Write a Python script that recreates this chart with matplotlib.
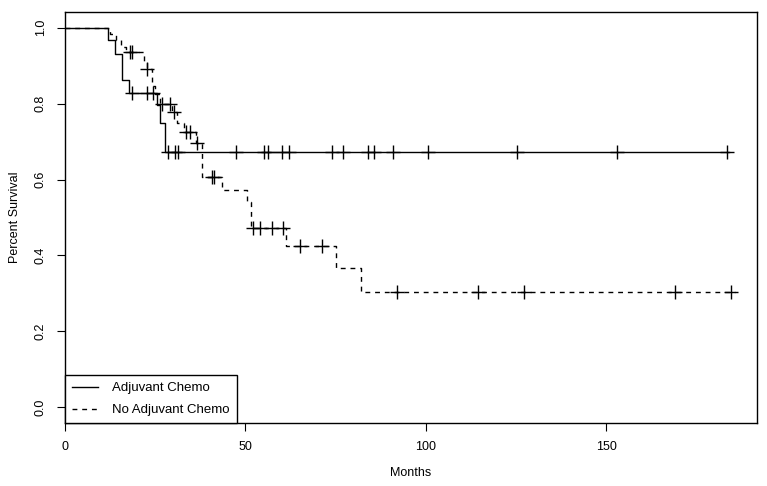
import numpy as np
import matplotlib
matplotlib.use("Agg")
import matplotlib.pyplot as plt

plt.rcParams['font.family'] = ['Liberation Sans', 'DejaVu Sans']

# Kaplan-Meier step values (months, survival)
adj_times = [0, 11.8, 13.9, 15.9, 17.8, 25.6, 26.4, 27.7]
adj_surv = [1.0, 0.966, 0.931, 0.862, 0.828, 0.797, 0.750, 0.672]
adj_end = 184.0
adj_censor = [18.6, 22.8, 24.4, 28.6, 30.5, 31.4, 47.4, 55.2, 56.1, 60.2,
              62.1, 74.1, 76.9, 83.8, 85.7, 90.8, 100.6, 125.2, 152.9, 183.5]

noadj_times = [0, 12.5, 14.0, 15.5, 17.0, 22.0, 22.8, 24.0, 25.0, 26.3,
               29.7, 31.0, 33.0, 36.3, 37.9, 43.4, 50.3, 51.4, 61.2, 75.1, 82.0]
noadj_surv = [1.0, 0.983, 0.966, 0.950, 0.937, 0.913, 0.891, 0.847, 0.826, 0.800,
              0.778, 0.750, 0.724, 0.697, 0.606, 0.573, 0.540, 0.472, 0.426, 0.368, 0.305]
noadj_end = 185.6
noadj_censor = [18.0, 18.6, 22.8, 26.8, 29.0, 30.3, 33.5, 34.6, 36.5, 40.6, 41.3,
                52.0, 54.0, 57.3, 60.3, 65.1, 71.1, 92.1, 114.4, 127.1, 169.0, 184.5]

labels = ["Adjuvant Chemo", "No Adjuvant Chemo"]


def surv_at(times, surv, t):
    idx = np.searchsorted(times, t, side='right') - 1
    return np.array(surv)[idx]


fig = plt.figure(figsize=(7.67, 4.86), dpi=100)
ax = fig.add_axes([65 / 767, 1 - 423 / 486, 692 / 767, 411 / 486])

dash = (0, (3.5, 3.5))
groups = [
    (adj_times, adj_surv, adj_end, adj_censor, '-'),
    (noadj_times, noadj_surv, noadj_end, noadj_censor, dash),
]
for (tt, ss, end, cens, ls), lab in zip(groups, labels):
    x = list(tt) + [end]
    y = list(ss) + [ss[-1]]
    ax.step(x, y, where='post', color='black', lw=1.0, linestyle=ls, label=lab)
    ax.plot(cens, surv_at(tt, ss, cens), linestyle='none', marker='+',
            markersize=10, mew=1.0, color='black')

ax.set_xlim(0, 191.7)
ax.set_ylim(-0.041, 1.041)
ax.set_xticks([0, 50, 100, 150])
ax.set_yticks([0.0, 0.2, 0.4, 0.6, 0.8, 1.0])
ax.set_yticklabels(["0.0", "0.2", "0.4", "0.6", "0.8", "1.0"], rotation=90, va='center')
ax.tick_params(direction='out', length=6, width=0.8, labelsize=9, pad=7)
for sp in ax.spines.values():
    sp.set_linewidth(1.0)

ax.set_xlabel("Months", fontsize=9, labelpad=10)
ax.set_ylabel("Percent Survival", fontsize=9, labelpad=10)

leg = ax.legend(loc='lower left', bbox_to_anchor=(0, 0), borderaxespad=0,
                fancybox=False, edgecolor='black', framealpha=1, fontsize=9.5,
                handlelength=2.0, handletextpad=1.1, borderpad=0.5,
                labelspacing=0.75)
leg.get_frame().set_linewidth(1.0)

fig.savefig("out.png", dpi=100)
